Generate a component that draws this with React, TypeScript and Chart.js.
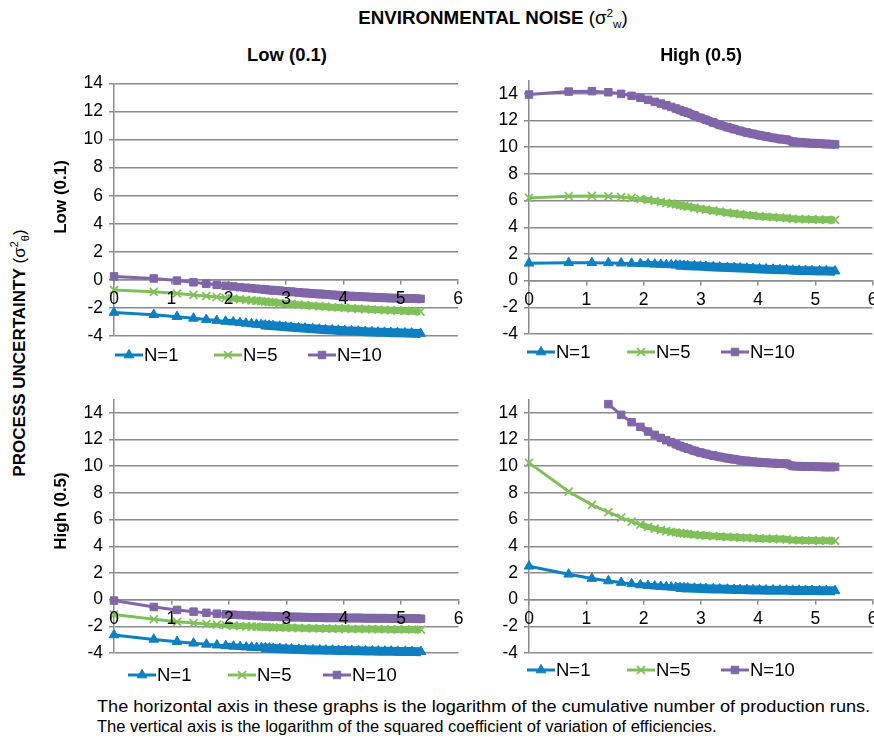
import React, { useEffect, useLayoutEffect, useRef } from 'react';
import { Chart, registerables } from 'chart.js';
import { drawPoint } from 'chart.js/helpers';

Chart.register(...registerables);

// ---------- DATA ----------
// cumulative number of production runs (horizontal axis shows ln of these)
const runs = [1, 2, 3, 4, 5, 6, 7, 8, 9, 10, 11, 12, 13, 14, 15, 16, 18, 20, 22, 25, 28, 32, 36, 40, 45, 50, 56, 63, 71, 80, 90, 100, 112, 125, 140, 160, 180, 210];
const seriesLabels = ['N=1', 'N=5', 'N=10'];

// Process uncertainty Low (0.1), environmental noise Low (0.1)
const lowUncLowNoiseN1 = [-2.33, -2.48, -2.62, -2.74, -2.83, -2.9, -2.96, -3.01, -3.06, -3.1, -3.14, -3.17, -3.2, -3.23, -3.25, -3.27, -3.31, -3.35, -3.38, -3.42, -3.45, -3.49, -3.52, -3.55, -3.58, -3.6, -3.63, -3.65, -3.67, -3.69, -3.71, -3.73, -3.74, -3.76, -3.77, -3.79, -3.8, -3.82];
const lowUncLowNoiseN5 = [-0.72, -0.85, -0.97, -1.07, -1.15, -1.22, -1.28, -1.33, -1.38, -1.42, -1.46, -1.49, -1.52, -1.55, -1.58, -1.6, -1.65, -1.69, -1.72, -1.77, -1.8, -1.85, -1.88, -1.91, -1.95, -1.97, -2.0, -2.03, -2.06, -2.08, -2.11, -2.13, -2.15, -2.17, -2.19, -2.21, -2.23, -2.26];
const lowUncLowNoiseN10 = [0.25, 0.1, -0.05, -0.17, -0.27, -0.35, -0.42, -0.47, -0.52, -0.56, -0.6, -0.63, -0.66, -0.69, -0.72, -0.74, -0.78, -0.82, -0.85, -0.89, -0.93, -0.97, -1.0, -1.03, -1.07, -1.1, -1.13, -1.16, -1.19, -1.21, -1.23, -1.25, -1.27, -1.29, -1.3, -1.32, -1.33, -1.35];

// Process uncertainty Low (0.1), environmental noise High (0.5)
const lowUncHighNoiseN1 = [1.3, 1.34, 1.34, 1.33, 1.31, 1.29, 1.27, 1.25, 1.23, 1.21, 1.19, 1.18, 1.16, 1.15, 1.13, 1.12, 1.1, 1.07, 1.06, 1.03, 1.01, 0.98, 0.96, 0.94, 0.92, 0.9, 0.88, 0.86, 0.84, 0.82, 0.81, 0.77, 0.76, 0.75, 0.74, 0.73, 0.72, 0.71];
const lowUncHighNoiseN5 = [6.2, 6.33, 6.35, 6.32, 6.27, 6.2, 6.12, 6.05, 5.97, 5.9, 5.83, 5.77, 5.71, 5.65, 5.6, 5.55, 5.46, 5.38, 5.32, 5.24, 5.17, 5.09, 5.03, 4.98, 4.92, 4.88, 4.83, 4.79, 4.75, 4.72, 4.69, 4.63, 4.61, 4.6, 4.59, 4.57, 4.56, 4.55];
const lowUncHighNoiseN10 = [13.95, 14.17, 14.2, 14.12, 14.0, 13.85, 13.7, 13.55, 13.4, 13.27, 13.14, 13.02, 12.9, 12.78, 12.67, 12.58, 12.38, 12.2, 12.05, 11.85, 11.67, 11.5, 11.36, 11.22, 11.1, 11.0, 10.9, 10.8, 10.7, 10.62, 10.56, 10.42, 10.37, 10.33, 10.3, 10.27, 10.24, 10.21];

// Process uncertainty High (0.5), environmental noise Low (0.1)
const highUncLowNoiseN1 = [-2.65, -2.98, -3.15, -3.27, -3.35, -3.41, -3.46, -3.5, -3.53, -3.56, -3.58, -3.6, -3.62, -3.63, -3.65, -3.66, -3.68, -3.7, -3.71, -3.73, -3.75, -3.77, -3.78, -3.79, -3.8, -3.81, -3.82, -3.83, -3.84, -3.85, -3.85, -3.86, -3.87, -3.87, -3.88, -3.88, -3.89, -3.9];
const highUncLowNoiseN5 = [-1.12, -1.47, -1.66, -1.76, -1.83, -1.88, -1.92, -1.95, -1.98, -2.0, -2.02, -2.03, -2.05, -2.06, -2.07, -2.08, -2.09, -2.1, -2.11, -2.13, -2.14, -2.15, -2.16, -2.17, -2.18, -2.18, -2.19, -2.2, -2.2, -2.21, -2.21, -2.22, -2.22, -2.23, -2.23, -2.24, -2.24, -2.25];
const highUncLowNoiseN10 = [-0.07, -0.55, -0.77, -0.9, -0.99, -1.05, -1.1, -1.13, -1.16, -1.18, -1.2, -1.22, -1.23, -1.24, -1.25, -1.26, -1.28, -1.29, -1.3, -1.31, -1.32, -1.33, -1.34, -1.35, -1.36, -1.36, -1.37, -1.38, -1.38, -1.39, -1.39, -1.4, -1.4, -1.41, -1.41, -1.42, -1.42, -1.43];

// Process uncertainty High (0.5), environmental noise High (0.5)
const highUncHighNoiseN1 = [2.5, 1.9, 1.58, 1.4, 1.28, 1.18, 1.1, 1.05, 1.01, 0.98, 0.95, 0.93, 0.91, 0.9, 0.88, 0.87, 0.85, 0.83, 0.82, 0.8, 0.79, 0.77, 0.76, 0.75, 0.74, 0.73, 0.72, 0.71, 0.71, 0.7, 0.7, 0.69, 0.69, 0.68, 0.68, 0.67, 0.67, 0.66];
const highUncHighNoiseN5 = [10.25, 8.1, 7.1, 6.55, 6.15, 5.85, 5.62, 5.45, 5.32, 5.22, 5.14, 5.08, 5.03, 4.98, 4.95, 4.92, 4.87, 4.83, 4.8, 4.76, 4.73, 4.7, 4.67, 4.65, 4.63, 4.61, 4.59, 4.57, 4.56, 4.54, 4.52, 4.46, 4.45, 4.44, 4.43, 4.42, 4.42, 4.41];
const highUncHighNoiseN10 = [null, null, null, 14.65, 13.85, 13.3, 12.95, 12.6, 12.35, 12.12, 11.95, 11.8, 11.65, 11.52, 11.42, 11.32, 11.15, 11.02, 10.92, 10.8, 10.7, 10.6, 10.52, 10.45, 10.39, 10.34, 10.3, 10.26, 10.23, 10.2, 10.18, 10.02, 10.0, 9.98, 9.97, 9.96, 9.95, 9.95];

// ---------- STYLE ----------
const FONT = '"Liberation Sans", Arial, Helvetica, sans-serif';
const GRID = '#8c8c8c';
const COLORS = ['#0e7fc1', '#80c05a', '#8066a8'];
const POINT_STYLES = ['triangle', 'crossRot', 'rect'];
const POINT_RADIUS = [5.6, 5.6, 5.3];
const POINT_BORDER = [1, 1.8, 1];
const BAND_WIDTH = [9, 7, 9];
const TICK_FONT = 17.5;
const LEGEND_FONT = 18.5;

type PanelCfg = {
  key: string;
  series: (number | null)[][];
  ymax: number;
  area: { left: number; right: number; top: number; bottom: number };
  legendY: number;
  legendX: number[];
};

const panels: PanelCfg[] = [
  { key: 'tl', series: [lowUncLowNoiseN1, lowUncLowNoiseN5, lowUncLowNoiseN10], ymax: 14,
    area: { left: 114, right: 458, top: 79, bottom: 336 }, legendY: 355, legendX: [115, 214, 308] },
  { key: 'tr', series: [lowUncHighNoiseN1, lowUncHighNoiseN5, lowUncHighNoiseN10], ymax: 15,
    area: { left: 529, right: 872.5, top: 76, bottom: 334 }, legendY: 352, legendX: [527, 627, 721] },
  { key: 'bl', series: [highUncLowNoiseN1, highUncLowNoiseN5, highUncLowNoiseN10], ymax: 15,
    area: { left: 114, right: 458.5, top: 395.5, bottom: 653 }, legendY: 675, legendX: [128, 228, 323] },
  { key: 'br', series: [highUncHighNoiseN1, highUncHighNoiseN5, highUncHighNoiseN10], ymax: 15,
    area: { left: 529, right: 872.5, top: 395.5, bottom: 653 }, legendY: 670, legendX: [527, 627, 721] },
];

const Y_AXIS_W = 50;

function Panel({ cfg }: { cfg: PanelCfg }) {
  const ref = useRef<HTMLCanvasElement>(null);
  const cLeft = cfg.area.left - Y_AXIS_W;
  const cTop = Math.floor(cfg.area.top - 12);
  const cRight = Math.ceil(cfg.area.right + 16);
  const cBottom = Math.ceil(cfg.area.bottom + 40);
  const w = cRight - cLeft;
  const h = cBottom - cTop;

  useEffect(() => {
    const legendPlugin = {
      id: 'panelLegend',
      afterDraw(chart: any) {
        const ctx = chart.ctx as CanvasRenderingContext2D;
        ctx.save();
        chart.data.datasets.forEach((ds: any, i: number) => {
          const x0 = cfg.legendX[i] - cLeft;
          const y = cfg.legendY - cTop;
          ctx.strokeStyle = ds.borderColor;
          ctx.lineWidth = 3;
          ctx.beginPath();
          ctx.moveTo(x0, y);
          ctx.lineTo(x0 + 28, y);
          ctx.stroke();
          ctx.fillStyle = ds.borderColor;
          ctx.lineWidth = ds.pointBorderWidth;
          drawPoint(ctx, { pointStyle: ds.pointStyle, radius: ds.pointRadius, borderWidth: ds.pointBorderWidth, rotation: 0 } as any, x0 + 14, y);
          ctx.fillStyle = '#000';
          ctx.font = `${LEGEND_FONT}px ${FONT}`;
          ctx.textAlign = 'left';
          ctx.textBaseline = 'middle';
          ctx.fillText(ds.label, x0 + 29, y + 1);
        });
        ctx.restore();
      },
    };

    const datasets = cfg.series.map((vals, k) => ({
      label: seriesLabels[k],
      data: runs.map((r, i) => ({ x: Math.log(r), y: vals[i] })),
      borderColor: COLORS[k],
      backgroundColor: COLORS[k],
      pointBackgroundColor: COLORS[k],
      pointBorderColor: COLORS[k],
      pointStyle: POINT_STYLES[k],
      pointRadius: POINT_RADIUS[k],
      pointBorderWidth: POINT_BORDER[k],
      borderWidth: 3,
      tension: 0,
      clip: false,
      spanGaps: false,
      segment: {
        borderWidth: (sctx: any) => {
          const x = sctx.p0.parsed.x;
          return x < 1.9 ? 3 : x < 2.5 ? 6 : BAND_WIDTH[k];
        },
      },
    }));

    const chart = new Chart(ref.current as HTMLCanvasElement, {
      type: 'line',
      data: { datasets } as any,
      options: {
        animation: false,
        responsive: false,
        maintainAspectRatio: false,
        events: [],
        layout: {
          padding: {
            top: cfg.area.top - cTop,
            left: 0,
            right: cRight - cfg.area.right,
            bottom: cBottom - cfg.area.bottom,
          },
        },
        plugins: { legend: { display: false }, tooltip: { enabled: false } },
        scales: {
          x: {
            type: 'linear',
            min: 0,
            max: 6,
            position: { y: 0 } as any,
            ticks: { stepSize: 1, z: 1, color: '#000', font: { family: FONT, size: TICK_FONT }, padding: 5, maxRotation: 0 },
            grid: { drawOnChartArea: false, tickLength: 4, color: GRID, lineWidth: 1.5 },
            border: { color: GRID, width: 1.5 },
            afterFit: (s: any) => { s.height = 0; },
          },
          y: {
            type: 'linear',
            min: -4,
            max: cfg.ymax,
            ticks: { stepSize: 2, includeBounds: false, color: '#000', font: { family: FONT, size: TICK_FONT }, padding: 6 },
            grid: { color: GRID, lineWidth: 1.5, tickLength: 5 },
            border: { color: GRID, width: 1.5 },
            afterFit: (s: any) => { s.width = Y_AXIS_W; },
          },
        },
      } as any,
      plugins: [legendPlugin],
    });
    return () => chart.destroy();
  }, []);

  return (
    <canvas
      ref={ref}
      width={w}
      height={h}
      style={{ position: 'absolute', left: cLeft, top: cTop, width: w, height: h }}
    />
  );
}

type FitProps = {
  x: number;
  y: number;
  width?: number;
  mode?: 'center' | 'left' | 'rot';
  style?: React.CSSProperties;
  children: React.ReactNode;
};

function FitText({ x, y, width, mode = 'center', style, children }: FitProps) {
  const ref = useRef<HTMLDivElement>(null);
  useLayoutEffect(() => {
    const el = ref.current;
    if (!el) return;
    const natural = el.offsetWidth;
    const s = width && natural ? width / natural : 1;
    if (mode === 'left') {
      el.style.transformOrigin = 'left center';
      el.style.transform = `translateY(-50%) scaleX(${s})`;
    } else if (mode === 'rot') {
      el.style.transform = `translate(-50%, -50%) rotate(-90deg) scaleX(${s})`;
    } else {
      el.style.transform = `translate(-50%, -50%) scaleX(${s})`;
    }
  }, []);
  return (
    <div
      ref={ref}
      style={{
        position: 'absolute',
        left: x,
        top: y,
        whiteSpace: 'nowrap',
        lineHeight: 1,
        transform: mode === 'left' ? 'translateY(-50%)' : 'translate(-50%, -50%)',
        ...style,
      }}
    >
      {children}
    </div>
  );
}

const supStyle: React.CSSProperties = { fontSize: 11, position: 'relative', top: -7 };
const subStyle: React.CSSProperties = { fontSize: 11, position: 'relative', top: 4 };

export default function App() {
  return (
    <div
      style={{
        position: 'absolute',
        left: 0,
        top: 0,
        width: 874,
        height: 740,
        overflow: 'hidden',
        background: '#fff',
        fontFamily: FONT,
        color: '#000',
      }}
    >
      {panels.map((p) => (
        <Panel key={p.key} cfg={p} />
      ))}

      <FitText x={493} y={19} width={270} style={{ fontSize: 17.5 }}>
        <b>ENVIRONMENTAL NOISE</b> (σ<span style={supStyle}>2</span>
        <span style={subStyle}>w</span>)
      </FitText>

      <FitText x={287} y={56} width={80} style={{ fontSize: 17.5, fontWeight: 'bold' }}>
        Low (0.1)
      </FitText>
      <FitText x={701} y={56} width={82} style={{ fontSize: 17.5, fontWeight: 'bold' }}>
        High (0.5)
      </FitText>

      <FitText x={19} y={353} mode="rot" style={{ fontSize: 17 }}>
        <b>PROCESS UNCERTAINTY</b> (σ<span style={supStyle}>2</span>
        <span style={subStyle}>θ</span>)
      </FitText>
      <FitText x={60} y={197} mode="rot" style={{ fontSize: 17, fontWeight: 'bold' }}>
        Low (0.1)
      </FitText>
      <FitText x={60} y={511} mode="rot" style={{ fontSize: 17, fontWeight: 'bold' }}>
        High (0.5)
      </FitText>

      <FitText x={97} y={707} width={773} mode="left" style={{ fontSize: 16 }}>
        The horizontal axis in these graphs is the logarithm of the cumulative number of production runs.
      </FitText>
      <FitText x={97} y={727} width={620} mode="left" style={{ fontSize: 16 }}>
        The vertical axis is the logarithm of the squared coefficient of variation of efficiencies.
      </FitText>
    </div>
  );
}
